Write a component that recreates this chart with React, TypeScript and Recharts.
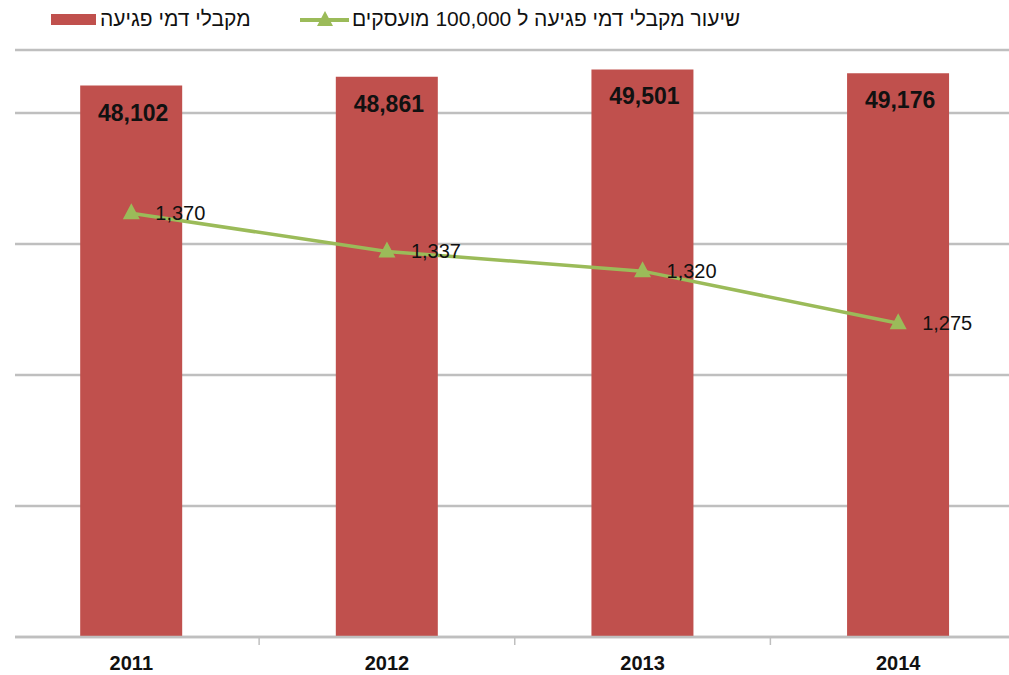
import React from 'react';
import { ComposedChart, Bar, Line, XAxis, YAxis, CartesianGrid, Legend, LabelList } from 'recharts';

// ---- data ----
const years = ['2011', '2012', '2013', '2014'];
const recipients = [48102, 48861, 49501, 49176];
const ratePer100k = [1370, 1337, 1320, 1275];
const gridTicks = [0, 1, 2, 3, 4];
const barName = 'מקבלי דמי פגיעה';
const lineName = 'שיעור מקבלי דמי פגיעה ל 100,000 מועסקים';

const data = years.map((y, i) => ({ year: y, recipients: recipients[i], rate: ratePer100k[i] }));

// ---- style ----
const BAR_COLOR = '#C0504D';
const LINE_COLOR = '#9BBB59';
const GRID_COLOR = '#BFBFBF';
const FONT = '"Liberation Sans", Arial, sans-serif';

const CHART_W = 1026;
const CHART_H = 675;
const MARGIN = { top: 14, right: 0, bottom: 0, left: 15 };
const PAD_LEFT = -11.5;
const BAND = (CHART_W - MARGIN.left - PAD_LEFT) / years.length;

const fmt = (v: number) => v.toLocaleString('en-US');

function YearTick(props: any) {
  const { x, y, payload, index } = props;
  return (
    <g>
      {index > 0 && (
        <line x1={x - BAND / 2} x2={x - BAND / 2} y1={y} y2={y + 8} stroke={GRID_COLOR} strokeWidth={1.5} />
      )}
      <text x={x} y={y + 33} textAnchor="middle" fontWeight="bold" fontSize={20} fontFamily={FONT} fill="#111">
        {payload.value}
      </text>
    </g>
  );
}

function BarValueLabel(props: any) {
  const { x, y, width, value } = props;
  return (
    <text x={x + width / 2 + 2} y={y + 35} textAnchor="middle" fontWeight="bold" fontSize={23} fontFamily={FONT} fill="#111">
      {fmt(value)}
    </text>
  );
}

function LineValueLabel(props: any) {
  const { x, y, value } = props;
  return (
    <text x={x + 24} y={y + 7} textAnchor="start" fontSize={20} fontFamily={FONT} fill="#111">
      {fmt(value)}
    </text>
  );
}

function TriangleDot(props: any) {
  const { cx, cy } = props;
  if (cx == null || cy == null) return null;
  return <polygon points={`${cx},${cy - 10} ${cx - 8.5},${cy + 6} ${cx + 8.5},${cy + 6}`} fill={LINE_COLOR} />;
}

function LegendBox() {
  const textStyle: React.CSSProperties = {
    position: 'absolute',
    top: 8,
    lineHeight: '22px',
    fontSize: 21,
    fontFamily: FONT,
    color: '#111',
    whiteSpace: 'nowrap',
  };
  return (
    <div style={{ position: 'relative', width: 1009, height: 36 }}>
      <div style={{ position: 'absolute', left: 51, top: 14, width: 45, height: 11, background: BAR_COLOR }} />
      <span dir="rtl" style={{ ...textStyle, left: 100 }}>{barName}</span>
      <svg style={{ position: 'absolute', left: 300, top: 9 }} width={50} height={22}>
        <line x1={0} x2={49} y1={11} y2={11} stroke={LINE_COLOR} strokeWidth={4} />
        <polygon points="25,2 17,17 33,17" fill={LINE_COLOR} />
      </svg>
      <span dir="rtl" style={{ ...textStyle, left: 352 }}>{lineName}</span>
    </div>
  );
}

export default function App() {
  return (
    <div style={{ position: 'absolute', left: 0, top: 0, width: 1009, height: 675, overflow: 'hidden', background: '#fff' }}>
      <ComposedChart width={CHART_W} height={CHART_H} data={data} margin={MARGIN} barCategoryGap="30%">
        <CartesianGrid yAxisId="grid" vertical={false} stroke={GRID_COLOR} strokeWidth={2.5} />
        <XAxis
          dataKey="year"
          padding={{ left: PAD_LEFT, right: 0 }}
          height={38}
          tickSize={0}
          tickMargin={0}
          tickLine={false}
          axisLine={{ stroke: GRID_COLOR, strokeWidth: 2.5 }}
          tick={<YearTick />}
          interval={0}
        />
        <YAxis yAxisId="bars" hide domain={[0, 51200]} />
        <YAxis yAxisId="rate" hide orientation="right" domain={[1004, 1511]} />
        <YAxis yAxisId="grid" hide type="number" domain={[0, 4.481]} ticks={gridTicks} allowDataOverflow />
        <Legend
          verticalAlign="top"
          align="left"
          height={36}
          wrapperStyle={{ top: 0, left: 0, width: 1009 }}
          content={() => <LegendBox />}
        />
        <Bar yAxisId="bars" dataKey="recipients" name={barName} fill={BAR_COLOR} isAnimationActive={false}>
          <LabelList dataKey="recipients" content={<BarValueLabel />} />
        </Bar>
        <Line
          yAxisId="rate"
          dataKey="rate"
          name={lineName}
          stroke={LINE_COLOR}
          strokeWidth={3.5}
          dot={<TriangleDot />}
          activeDot={false}
          isAnimationActive={false}
        >
          <LabelList dataKey="rate" content={<LineValueLabel />} />
        </Line>
      </ComposedChart>
    </div>
  );
}
